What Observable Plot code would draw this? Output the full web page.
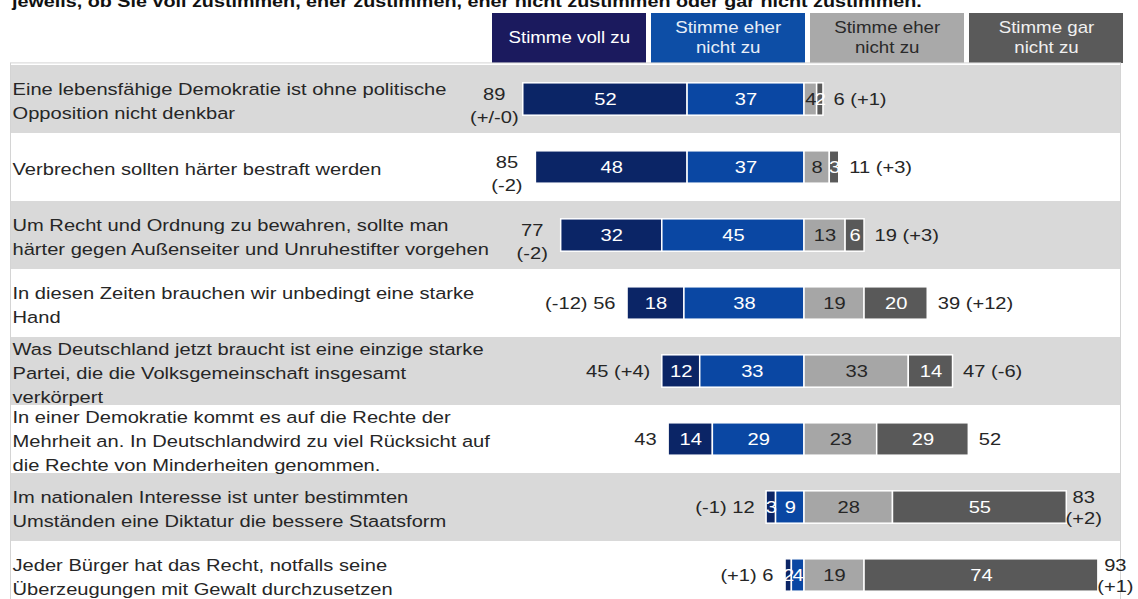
<!DOCTYPE html>
<html>
<head>
<meta charset="utf-8">
<script src="https://cdn.jsdelivr.net/npm/d3@7"></script>
<script src="https://cdn.jsdelivr.net/npm/@observablehq/plot@0.6"></script>
<style>
  html, body { margin: 0; padding: 0; background: #fff; }
  #wrap { position: relative; width: 1138px; height: 599px; overflow: hidden; font-family: "Liberation Sans", Arial, sans-serif; }
  #title { position: absolute; left: 12px; top: -7.5px; font-size: 16.2px; line-height: 16px; font-weight: bold; color: #111; white-space: nowrap; transform-origin: 0 0; }
  .lg { position: absolute; top: 13px; height: 50px; width: 154px; display: flex; align-items: center; justify-content: center; text-align: center; font-size: 17px; line-height: 20px; }
  .lg span { display: inline-block; }
  #chart { position: absolute; left: 0; top: 0; }
</style>
</head>
<body>
<div id="wrap">
  <div id="title"></div>
  <div id="legend"></div>
  <div id="chart"></div>
</div>
<script>
// ---- data ----
const statements = [
  "Eine lebensfähige Demokratie ist ohne politische\nOpposition nicht denkbar",
  "Verbrechen sollten härter bestraft werden",
  "Um Recht und Ordnung zu bewahren, sollte man\nhärter gegen Außenseiter und Unruhestifter vorgehen",
  "In diesen Zeiten brauchen wir unbedingt eine starke\nHand",
  "Was Deutschland jetzt braucht ist eine einzige starke\nPartei, die die Volksgemeinschaft insgesamt\nverkörpert",
  "In einer Demokratie kommt es auf die Rechte der\nMehrheit an. In Deutschlandwird zu viel Rücksicht auf\ndie Rechte von Minderheiten genommen.",
  "Im nationalen Interesse ist unter bestimmten\nUmständen eine Diktatur die bessere Staatsform",
  "Jeder Bürger hat das Recht, notfalls seine\nÜberzeugungen mit Gewalt durchzusetzen"
];
const stimmeVoll      = [52, 48, 32, 18, 12, 14, 3, 2];
const stimmeEher      = [37, 37, 45, 38, 33, 29, 9, 4];
const stimmeEherNicht = [4, 8, 13, 19, 33, 23, 28, 19];
const stimmeGarNicht  = [2, 3, 6, 20, 14, 29, 55, 74];
const leftLabels  = ["89\n(+/-0)", "85\n(-2)", "77\n(-2)", "(-12) 56", "45 (+4)", "43", "(-1) 12", "(+1) 6"];
const rightLabels = ["6 (+1)", "11 (+3)", "19 (+3)", "39 (+12)", "47 (-6)", "52", "83\n(+2)", "93\n(+1)"];
const seriesKeys   = ["voll", "eher", "eherNicht", "garNicht"];
const legendLabels = ["Stimme voll zu", "Stimme eher\nnicht zu", "Stimme eher\nnicht zu", "Stimme gar\nnicht zu"];
const seriesColors = ["#0b2566", "#0a47a3", "#a6a6a6", "#595959"];
const legendColors = ["#1b1a5e", "#0d4ea6", "#a9a9a9", "#5a5a5a"];
const legendText   = ["#ffffff", "#e8eef8", "#2a2a2a", "#f0f0f0"];
const titleText = "jeweils, ob Sie voll zustimmen, eher zustimmen, eher nicht zustimmen oder gar nicht zustimmen.";

// ---- layout constants ----
const STRETCH = 1.22, LEGEND_STRETCH = 1.1;
const PX_PER_UNIT = 3.16, ZERO_PX = 804, W = 1138;
const X_MIN = -ZERO_PX / PX_PER_UNIT, X_MAX = (W - ZERO_PX) / PX_PER_UNIT;
const FONT = '"Liberation Sans", Arial, sans-serif';

// ---- tables ----
const rows = statements.map((s, i) => ({
  statement: s, idx: i,
  agree: stimmeVoll[i] + stimmeEher[i],
  disagree: stimmeEherNicht[i] + stimmeGarNicht[i],
  left: leftLabels[i], right: rightLabels[i]
}));
const segs = [];
rows.forEach((r, i) => {
  const v = stimmeVoll[i], e = stimmeEher[i], en = stimmeEherNicht[i], g = stimmeGarNicht[i];
  segs.push({statement: r.statement, series: "voll", value: v, x1: -(v + e), x2: -e});
  segs.push({statement: r.statement, series: "eher", value: e, x1: -e, x2: 0});
  segs.push({statement: r.statement, series: "eherNicht", value: en, x1: 0, x2: en});
  segs.push({statement: r.statement, series: "garNicht", value: g, x1: en, x2: en + g});
});

// ---- title + legend (HTML) ----
const title = document.getElementById("title");
title.textContent = titleText;
title.style.transform = `scaleX(${STRETCH})`;
const legend = document.getElementById("legend");
const legendLeft = [492, 651, 810, 969];
legendLabels.forEach((lab, i) => {
  const d = document.createElement("div");
  d.className = "lg";
  d.style.left = legendLeft[i] + "px";
  d.style.background = legendColors[i];
  d.style.color = legendText[i];
  const sp = document.createElement("span");
  sp.innerHTML = lab.split("\n").join("<br>");
  sp.style.transform = `scaleX(${LEGEND_STRETCH})`;
  d.appendChild(sp);
  legend.appendChild(d);
});

// ---- chart ----
const step = 68.71, top0 = 62.4;
const H = 620;
const chart = Plot.plot({
  width: W, height: H,
  marginLeft: 0, marginRight: 0, marginTop: top0, marginBottom: H - (top0 + step * statements.length),
  x: {domain: [X_MIN, X_MAX], axis: null},
  y: {domain: statements, axis: null, padding: 0},
  color: {domain: seriesKeys, range: seriesColors},
  style: {fontFamily: FONT, fontSize: "16.5px", background: "transparent", color: "#262626"},
  marks: [
    Plot.barX(rows.filter(d => d.idx % 2 === 0), {y: "statement", x1: X_MIN, x2: 100, insetLeft: 10, fill: "#d9d9d9"}),
    Plot.frame({stroke: "#d4d4d4", insetLeft: 10, insetRight: 18}),
    Plot.barX(segs, {y: "statement", x1: "x1", x2: "x2", fill: "series", stroke: "#ffffff", strokeWidth: 1.5, insetTop: 17.8, insetBottom: 17.8}),
    Plot.text(segs.filter(d => d.series !== "eherNicht"), {y: "statement", x: d => (d.x1 + d.x2) / 2, text: "value", fill: "#ffffff", fontSize: 16.5}),
    Plot.text(segs.filter(d => d.series === "eherNicht"), {y: "statement", x: d => (d.x1 + d.x2) / 2, text: "value", fill: "#262626", fontSize: 16.5}),
    Plot.text(rows, {y: "statement", text: "statement", frameAnchor: "left", dx: 12, textAnchor: "start", lineHeight: 1.45, fill: "#262626", fontSize: 16.5}),
    Plot.text(rows.filter(d => d.left.includes("\n")), {y: "statement", x: d => -d.agree, text: "left", textAnchor: "middle", dx: -29, dy: 5, lineHeight: 1.4, fill: "#262626", fontSize: 16.5}),
    Plot.text(rows.filter(d => !d.left.includes("\n")), {y: "statement", x: d => -d.agree, text: "left", textAnchor: "end", dx: -12, fill: "#262626", fontSize: 16.5}),
    Plot.text(rows.filter(d => d.right.includes("\n")), {y: "statement", x: d => d.disagree, text: "right", textAnchor: "middle", dx: 17, dy: -1, lineHeight: 1.3, fill: "#262626", fontSize: 16.5}),
    Plot.text(rows.filter(d => !d.right.includes("\n")), {y: "statement", x: d => d.disagree, text: "right", textAnchor: "start", dx: 10, fill: "#262626", fontSize: 16.5})
  ]
});
// stretch glyphs horizontally around each text's anchor, as in the source image
chart.querySelectorAll("text").forEach(t => {
  const tr = t.getAttribute("transform") || "";
  const x = parseFloat(t.getAttribute("x")) || 0;
  t.setAttribute("transform", `${tr} translate(${x},0) scale(${STRETCH},1) translate(${-x},0)`.trim());
});
document.getElementById("chart").appendChild(chart);
</script>
</body>
</html>
